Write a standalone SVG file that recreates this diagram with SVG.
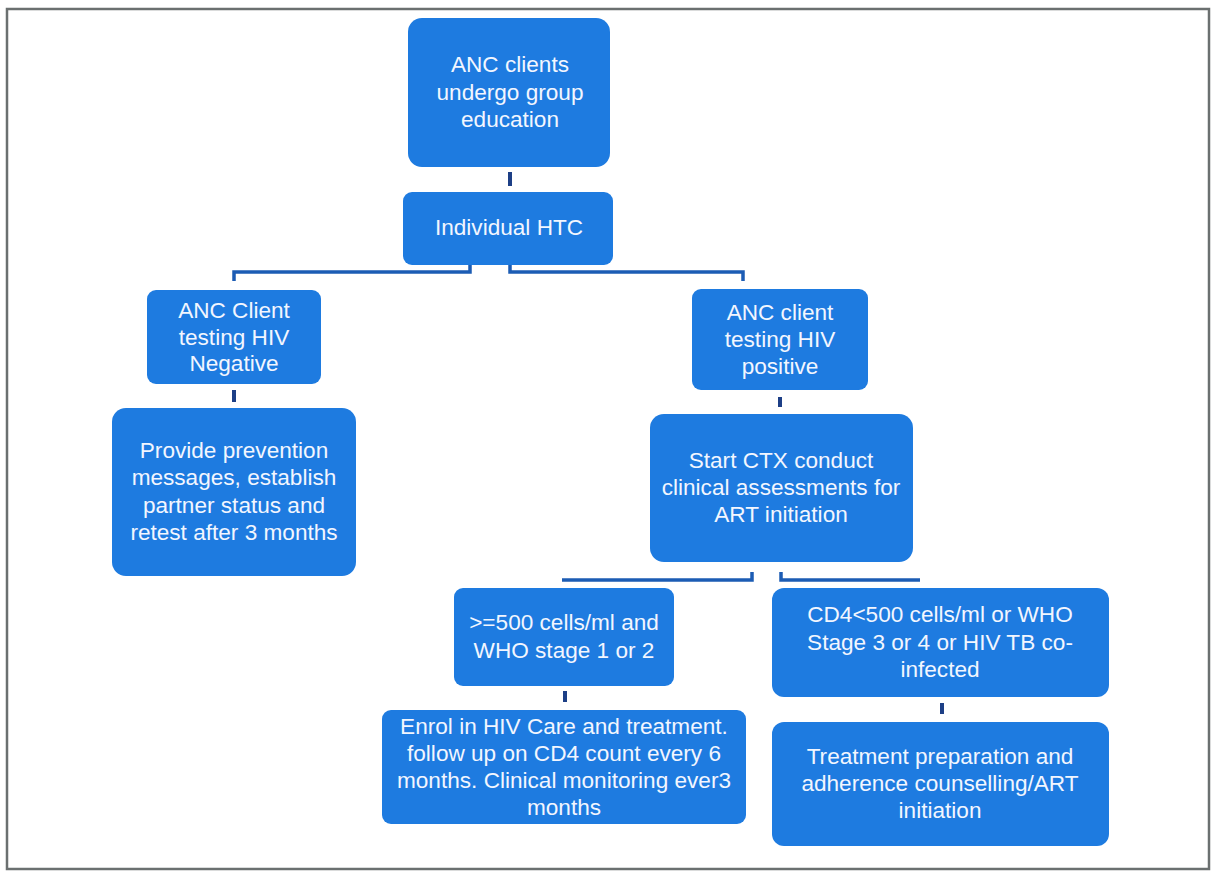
<svg xmlns="http://www.w3.org/2000/svg" width="1211" height="873" viewBox="0 0 1211 873">
<style>
.bg{fill:#ffffff}
.frame{fill:none;stroke:#6b7070;stroke-width:2.5}
.box{fill:#1e7be0}
.t{font-family:"Liberation Sans",Arial,sans-serif;font-size:22.6px;fill:#f2f6ff;text-anchor:middle}
.c{fill:none;stroke:#1c5cb4;stroke-width:3.5}
.tick{fill:none;stroke:#1d3f86;stroke-width:4}
</style>
<rect class="bg" x="0" y="0" width="1211" height="873"/>
<rect class="frame" x="7" y="9" width="1202" height="860"/>
<g id="connectors">
<path class="tick" d="M510 172 V186"/>
<path class="c" d="M470 265 V272 H234 V281"/>
<path class="c" d="M510 265 V272 H743 V281"/>
<path class="tick" d="M234 390 V402"/>
<path class="tick" d="M780 397 V407"/>
<path class="c" d="M562 580 H752 V572"/>
<path class="c" d="M781 572 V580 H920"/>
<path class="tick" d="M565 691 V702"/>
<path class="tick" d="M942 703 V714"/>
</g>
<g id="n1"><rect class="box" x="408" y="18" width="202" height="149" rx="14"/>
<text class="t" x="510" y="72">ANC clients</text><text class="t" x="510" y="100">undergo group</text><text class="t" x="510" y="127">education</text></g>
<g id="n2"><rect class="box" x="403" y="192" width="210" height="73" rx="9"/>
<text class="t" x="509" y="235">Individual HTC</text></g>
<g id="n3"><rect class="box" x="147" y="290" width="174" height="94" rx="9"/>
<text class="t" x="234" y="318">ANC Client</text><text class="t" x="234" y="345">testing HIV</text><text class="t" x="234" y="371">Negative</text></g>
<g id="n4"><rect class="box" x="112" y="408" width="244" height="168" rx="14"/>
<text class="t" x="234" y="458">Provide prevention</text><text class="t" x="234" y="485">messages, establish</text><text class="t" x="234" y="513">partner status and</text><text class="t" x="234" y="540">retest after 3 months</text></g>
<g id="n5"><rect class="box" x="692" y="289" width="176" height="101" rx="9"/>
<text class="t" x="780" y="320">ANC client</text><text class="t" x="780" y="347">testing HIV</text><text class="t" x="780" y="374">positive</text></g>
<g id="n6"><rect class="box" x="650" y="414" width="263" height="148" rx="14"/>
<text class="t" x="781" y="468">Start CTX conduct</text><text class="t" x="781" y="495">clinical assessments for</text><text class="t" x="781" y="522">ART initiation</text></g>
<g id="n7"><rect class="box" x="454" y="588" width="220" height="98" rx="9"/>
<text class="t" x="564" y="630">&gt;=500 cells/ml and</text><text class="t" x="564" y="658">WHO stage 1 or 2</text></g>
<g id="n8"><rect class="box" x="382" y="710" width="364" height="114" rx="9"/>
<text class="t" x="564" y="734">Enrol in HIV Care and treatment.</text><text class="t" x="564" y="761">follow up on CD4 count every 6</text><text class="t" x="564" y="788">months. Clinical monitoring ever3</text><text class="t" x="564" y="815">months</text></g>
<g id="n9"><rect class="box" x="772" y="588" width="337" height="109" rx="12"/>
<text class="t" x="940" y="622">CD4&lt;500 cells/ml or WHO</text><text class="t" x="940" y="650">Stage 3 or 4 or HIV TB co-</text><text class="t" x="940" y="677">infected</text></g>
<g id="n10"><rect class="box" x="772" y="722" width="337" height="124" rx="12"/>
<text class="t" x="940" y="764">Treatment preparation and</text><text class="t" x="940" y="791">adherence counselling/ART</text><text class="t" x="940" y="818">initiation</text></g>
</svg>
